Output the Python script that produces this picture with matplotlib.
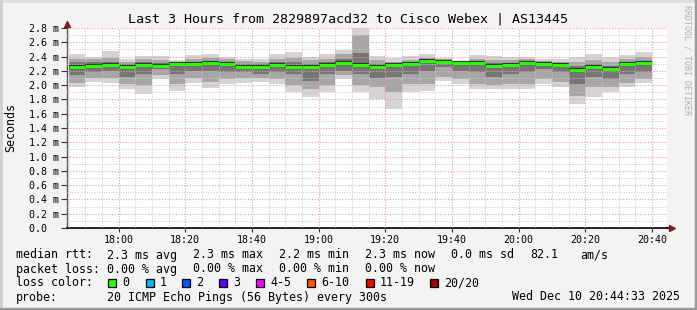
import matplotlib
matplotlib.use("Agg")
import matplotlib.pyplot as plt
from matplotlib.patches import Rectangle
from matplotlib.lines import Line2D

W, H = 697, 310

# ---- data (minutes after 17:00, 5-minute steps starting 17:45) ----
step_start = [45 + 5 * i for i in range(35)]
median = [2.25, 2.27, 2.28, 2.25, 2.28, 2.27, 2.30, 2.30, 2.31, 2.29, 2.26, 2.25,
          2.28, 2.26, 2.25, 2.28, 2.31, 2.28, 2.25, 2.28, 2.29, 2.34, 2.33, 2.31,
          2.31, 2.27, 2.28, 2.31, 2.29, 2.28, 2.21, 2.25, 2.22, 2.29, 2.31]
ping_max = [2.43, 2.40, 2.48, 2.36, 2.41, 2.41, 2.35, 2.42, 2.44, 2.40, 2.37, 2.37,
            2.43, 2.46, 2.40, 2.43, 2.49, 2.81, 2.41, 2.38, 2.41, 2.43, 2.38, 2.34,
            2.42, 2.41, 2.40, 2.40, 2.36, 2.36, 2.40, 2.43, 2.40, 2.42, 2.46]
ping_p90 = [2.37, 2.36, 2.38, 2.33, 2.36, 2.35, 2.33, 2.37, 2.38, 2.36, 2.34, 2.33,
            2.37, 2.38, 2.35, 2.37, 2.43, 2.70, 2.35, 2.33, 2.35, 2.38, 2.36, 2.33,
            2.37, 2.35, 2.35, 2.36, 2.34, 2.33, 2.33, 2.35, 2.33, 2.37, 2.39]
ping_p75 = [2.33, 2.32, 2.33, 2.30, 2.32, 2.31, 2.31, 2.33, 2.34, 2.32, 2.30, 2.29,
            2.32, 2.32, 2.30, 2.32, 2.36, 2.45, 2.30, 2.30, 2.31, 2.35, 2.34, 2.32,
            2.34, 2.31, 2.31, 2.33, 2.32, 2.31, 2.27, 2.29, 2.27, 2.33, 2.34]
ping_p25 = [2.14, 2.18, 2.20, 2.12, 2.15, 2.22, 2.15, 2.20, 2.20, 2.18, 2.18, 2.16,
            2.18, 2.15, 2.06, 2.15, 2.20, 2.15, 2.10, 2.12, 2.16, 2.20, 2.25, 2.20,
            2.18, 2.12, 2.15, 2.18, 2.22, 2.18, 2.02, 2.12, 2.08, 2.15, 2.18]
ping_p10 = [2.03, 2.10, 2.10, 2.02, 2.00, 2.14, 2.02, 2.10, 2.05, 2.08, 2.10, 2.10,
            2.08, 2.00, 1.95, 2.00, 2.14, 2.00, 1.98, 1.90, 2.02, 2.02, 2.12, 2.08,
            2.02, 2.00, 2.02, 2.02, 2.08, 2.05, 1.85, 1.98, 1.98, 2.03, 2.08]
ping_min = [1.97, 2.04, 2.03, 1.95, 1.87, 2.08, 1.92, 2.03, 1.96, 2.01, 2.03, 2.04,
            2.02, 1.91, 1.83, 1.90, 2.09, 1.91, 1.80, 1.67, 1.90, 1.92, 2.06, 2.02,
            1.94, 1.95, 1.94, 1.95, 2.01, 1.98, 1.74, 1.84, 1.90, 1.97, 2.03]

y_ticks = [0.0, 0.2, 0.4, 0.6, 0.8, 1.0, 1.2, 1.4, 1.6, 1.8, 2.0, 2.2, 2.4, 2.6, 2.8]
y_labels = ["0.0  "] + ["%.1f m" % v for v in y_ticks[1:]]
x_ticks = [60, 80, 100, 120, 140, 160, 180, 200, 220]
x_labels = ["18:00", "18:20", "18:40", "19:00", "19:20", "19:40", "20:00", "20:20", "20:40"]

loss_labels = ["0", "1", "2", "3", "4-5", "6-10", "11-19", "20/20"]
loss_colors = ["#26ff00", "#00b8ff", "#0059ff", "#5e00ff", "#ff00ff", "#ff5500", "#ff0000", "#a10000"]

title = "Last 3 Hours from 2829897acd32 to Cisco Webex | AS13445"
mono = "DejaVu Sans Mono"

fig = plt.figure(figsize=(W / 100, H / 100), dpi=100)
fig.patch.set_facecolor("#f3f3f3")

ax = fig.add_axes([67 / W, 82 / H, 600 / W, 200 / H])
ax.set_facecolor("white")
ax.set_xlim(44.55, 224.55)
ax.set_ylim(0, 2.8)

def band(lo, hi, color):
    ax.bar(step_start, [h - l for h, l in zip(hi, lo)], bottom=lo, width=5,
           align="edge", color=color, linewidth=0, zorder=1)

band(ping_min, ping_max, "#d4d4d4")
band(ping_p10, ping_p90, "#a6a6a6")
band(ping_p25, ping_p75, "#767676")
ax.hlines(median, step_start, [s + 5 for s in step_start], color="#333333",
          lw=3.0, zorder=3)
ax.hlines(median, step_start, [s + 5 for s in step_start], color="#26ff00",
          lw=2.2, zorder=4)

# grid
ax.set_xticks(x_ticks)
ax.set_xticks(list(range(45, 225, 5)), minor=True)
ax.set_yticks(y_ticks)
ax.set_yticks([0.1 * k for k in range(29)], minor=True)
ax.set_axisbelow(False)
ax.grid(which="minor", color="#c8c8c8", linestyle=(0, (1, 1.5)), lw=0.7)
ax.grid(which="major", color="#f29a9a", linestyle=(0, (1, 1.5)), lw=0.8)

ax.set_yticklabels(y_labels, family=mono, fontsize=7.2)
ax.set_xticklabels(x_labels, family=mono, fontsize=7.2)
ax.tick_params(axis="y", which="major", length=4, width=0.8, pad=1.5, color="#333333")
ax.tick_params(axis="y", which="minor", length=0)
ax.tick_params(axis="x", which="major", length=3, width=0.8, pad=2, color="#333333")
ax.tick_params(axis="x", which="minor", length=0)

for s in ["top", "right"]:
    ax.spines[s].set_visible(False)
ax.spines["left"].set_color("#555555")
ax.spines["bottom"].set_color("black")
ax.spines["left"].set_linewidth(1)
ax.spines["bottom"].set_linewidth(1.2)

# axis arrows
ax.plot([0], [1.02], marker="^", color="#7f1f1f", markersize=4.5,
        transform=ax.transAxes, clip_on=False, zorder=5)
ax.plot([1.008], [0], marker=">", color="#7f1f1f", markersize=4.5,
        transform=ax.transAxes, clip_on=False, zorder=5)
ax.add_line(Line2D([1.0, 1.008], [0, 0], transform=ax.transAxes, color="black",
                   lw=1.2, clip_on=False))

def ftext(x, y, s, **kw):
    kw.setdefault("family", mono)
    kw.setdefault("fontsize", 8.4)
    kw.setdefault("va", "center")
    fig.text(x / W, 1 - y / H, s, **kw)

ftext(348, 19, title, ha="center", fontsize=9.6)
ftext(11, 127, "Seconds", rotation=90, ha="center", fontsize=8.4)
ftext(687, 60, "RRDTOOL / TOBI OETIKER", rotation=270, ha="center",
      fontsize=6.0, color="#b0b0b0")

# legend
ftext(16, 255, "median rtt:")
for x, s in zip([107, 193, 279, 365, 451, 530, 580],
                ["2.3 ms avg", "2.3 ms max", "2.2 ms min", "2.3 ms now",
                 "0.0 ms sd", "82.1", "am/s"]):
    ftext(x, 255, s)
ftext(16, 269, "packet loss:")
for x, s in zip([107, 193, 279, 365],
                ["0.00 % avg", "0.00 % max", "0.00 % min", "0.00 % now"]):
    ftext(x, 269, s)
ftext(16, 283, "loss color:")
box_x = [108, 146, 182, 219, 256, 307, 366, 430]
for bx, lab, col in zip(box_x, loss_labels, loss_colors):
    fig.add_artist(Rectangle((bx / W, 1 - 287 / H), 8 / W, 8 / H,
                             transform=fig.transFigure, facecolor=col,
                             edgecolor="black", lw=0.9))
    ftext(bx + 14, 283, lab)
ftext(16, 297, "probe:")
ftext(107, 297, "20 ICMP Echo Pings (56 Bytes) every 300s")
ftext(680, 297, "Wed Dec 10 20:44:33 2025", ha="right")

# frame
fig.add_artist(Line2D([0, 1], [1 - 0.5 / H, 1 - 0.5 / H], transform=fig.transFigure,
                      color="#dcdcdc", lw=2))
fig.add_artist(Line2D([0.5 / W, 0.5 / W], [0, 1], transform=fig.transFigure,
                      color="#d0d0d0", lw=2))
fig.add_artist(Line2D([0, 1], [1 / H, 1 / H], transform=fig.transFigure,
                      color="#9a9a9a", lw=2.5))
fig.add_artist(Line2D([1 - 1 / W, 1 - 1 / W], [0, 1], transform=fig.transFigure,
                      color="#9a9a9a", lw=2.5))

fig.savefig("out.png", dpi=100, facecolor=fig.get_facecolor())
